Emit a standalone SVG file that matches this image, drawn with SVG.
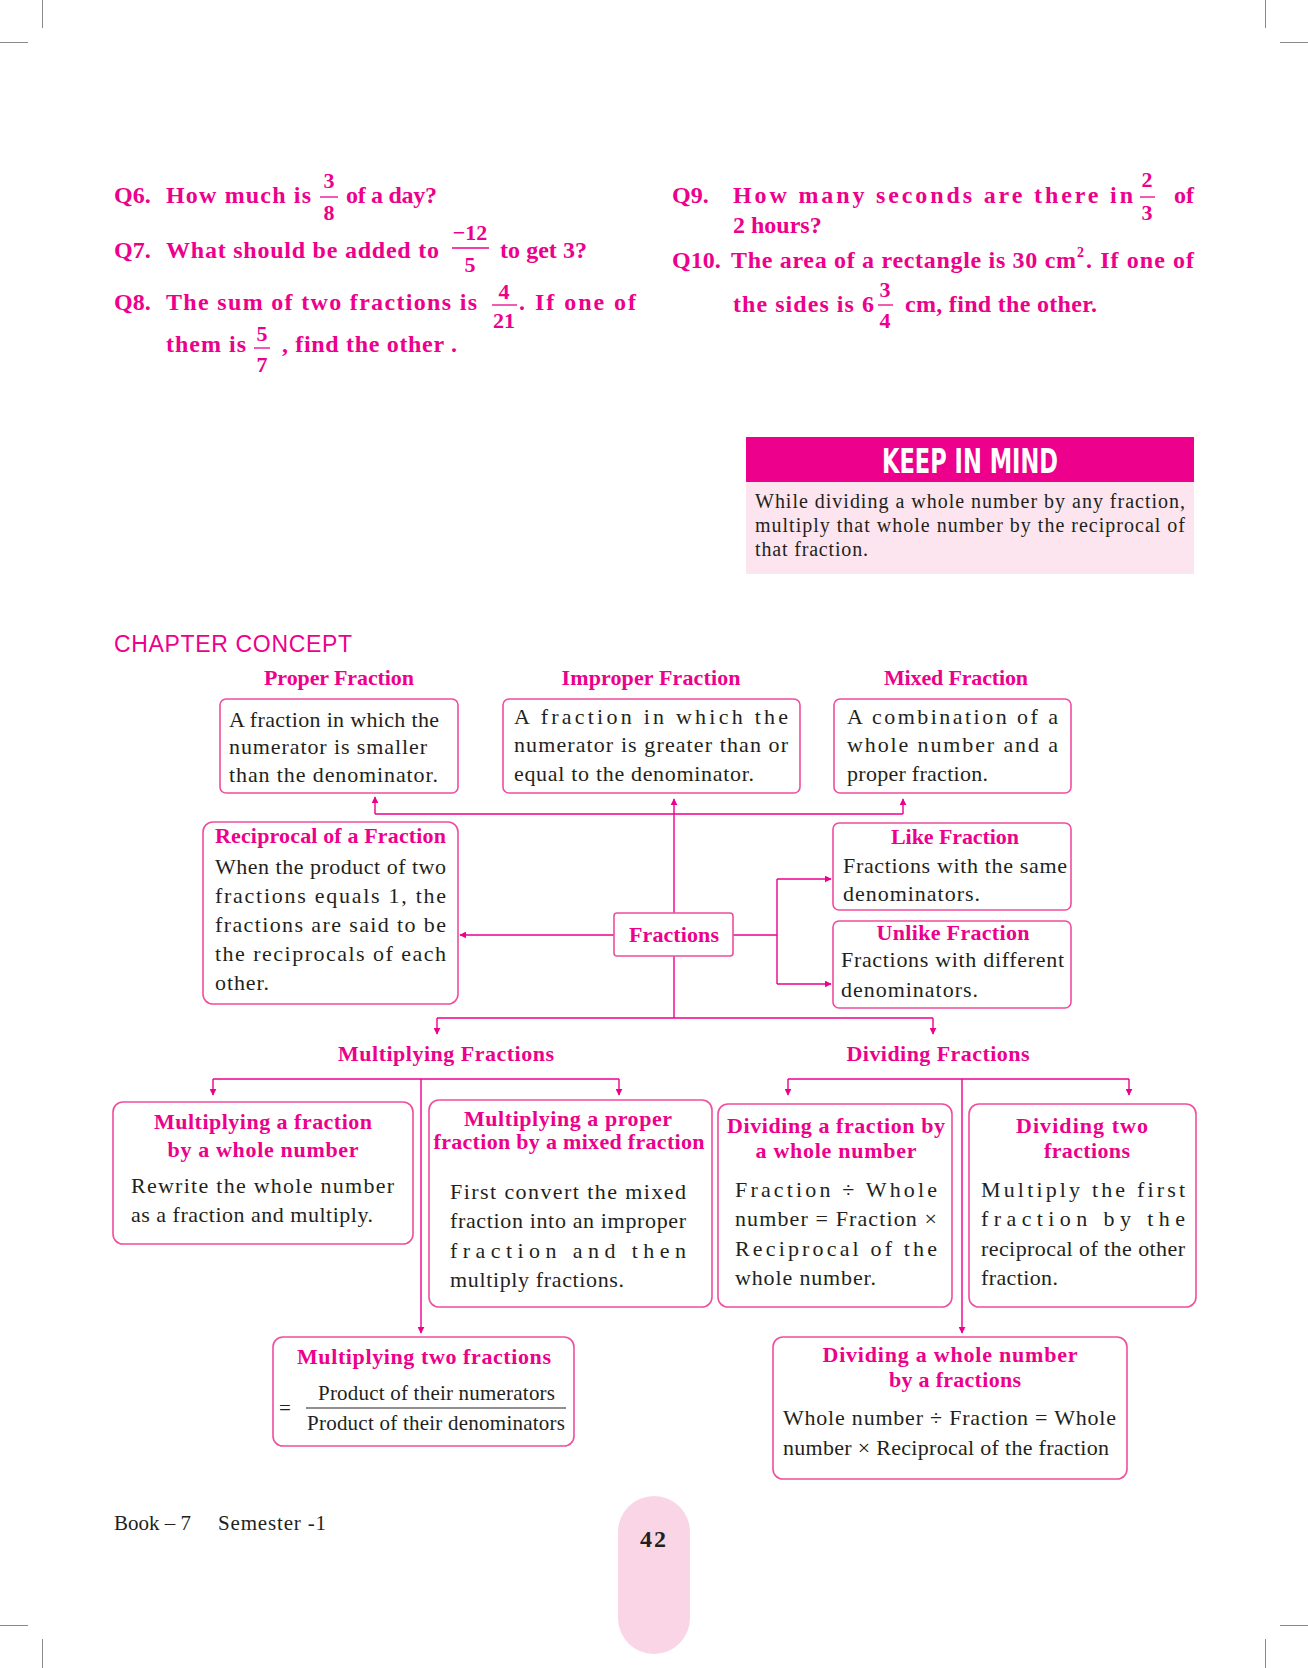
<svg xmlns="http://www.w3.org/2000/svg" width="1308" height="1668" viewBox="0 0 1308 1668">
<style>
.q{font-family:"Liberation Serif",serif;font-weight:bold;font-size:24px;fill:#EC008C}
.fr{font-family:"Liberation Serif",serif;font-weight:bold;font-size:22px;fill:#EC008C;text-anchor:middle}
.t{font-family:"Liberation Serif",serif;font-weight:bold;font-size:22px;fill:#EC008C;text-anchor:middle}
.b{font-family:"Liberation Serif",serif;font-size:22px;fill:#231F20}
.box{fill:none;stroke:#EF4E9E;stroke-width:1.6}
.ln{fill:none;stroke:#EC008C;stroke-width:1.4}
.crop{stroke:#8a8a8a;stroke-width:1}
</style>
<defs>
<marker id="ah" viewBox="0 0 10 10" refX="9" refY="5" markerWidth="7" markerHeight="7" markerUnits="userSpaceOnUse" orient="auto">
<path d="M0,0 L10,5 L0,10 z" fill="#EC008C"/>
</marker>
</defs>
<rect width="1308" height="1668" fill="#ffffff"/>
<g id="cropmarks">
<line class="crop" x1="42.5" y1="0" x2="42.5" y2="28"/>
<line class="crop" x1="0" y1="42.5" x2="28" y2="42.5"/>
<line class="crop" x1="1265.5" y1="0" x2="1265.5" y2="28"/>
<line class="crop" x1="1280" y1="42.5" x2="1308" y2="42.5"/>
<line class="crop" x1="0" y1="1625.5" x2="28" y2="1625.5"/>
<line class="crop" x1="42.5" y1="1639" x2="42.5" y2="1668"/>
<line class="crop" x1="1280" y1="1625.5" x2="1308" y2="1625.5"/>
<line class="crop" x1="1265.5" y1="1639" x2="1265.5" y2="1668"/>
</g>
<g id="questions">
<text class="q" x="114" y="203">Q6.</text>
<text class="q" x="166" y="203" textLength="145">How much is</text>
<text class="fr" x="329" y="188">3</text>
<line x1="320" y1="197" x2="338" y2="197" stroke="#EC008C" stroke-width="1.3"/>
<text class="fr" x="329" y="220">8</text>
<text class="q" x="346" y="203" textLength="91">of a day?</text>

<text class="q" x="114" y="258">Q7.</text>
<text class="q" x="166" y="258" textLength="273">What should be added to</text>
<text class="fr" x="470" y="240">−12</text>
<line x1="452" y1="248" x2="489" y2="248" stroke="#EC008C" stroke-width="1.3"/>
<text class="fr" x="470" y="272">5</text>
<text class="q" x="500" y="258" textLength="87">to get 3?</text>

<text class="q" x="114" y="310">Q8.</text>
<text class="q" x="166" y="310" textLength="311">The sum of two fractions is</text>
<text class="fr" x="504" y="299">4</text>
<line x1="492" y1="305" x2="517" y2="305" stroke="#EC008C" stroke-width="1.3"/>
<text class="fr" x="504" y="328">21</text>
<text class="q" x="519" y="310" textLength="117">. If one of</text>
<text class="q" x="166" y="352" textLength="80">them is</text>
<text class="fr" x="262" y="341">5</text>
<line x1="254" y1="348" x2="270" y2="348" stroke="#EC008C" stroke-width="1.3"/>
<text class="fr" x="262" y="372">7</text>
<text class="q" x="282" y="352" textLength="175">, find the other .</text>

<text class="q" x="672" y="203">Q9.</text>
<text class="q" x="733" y="203" textLength="400">How many seconds are there in</text>
<text class="fr" x="1147" y="187">2</text>
<line x1="1140" y1="197" x2="1155" y2="197" stroke="#EC008C" stroke-width="1.3"/>
<text class="fr" x="1147" y="220">3</text>
<text class="q" x="1194" y="203" style="text-anchor:end">of</text>
<text class="q" x="733" y="233">2 hours?</text>

<text class="q" x="672" y="268">Q10.</text>
<text class="q" x="731" y="268" textLength="345">The area of a rectangle is 30 cm</text>
<text class="q" x="1077" y="257" style="font-size:14px">2</text>
<text class="q" x="1086" y="268" textLength="108">. If one of</text>
<text class="q" x="733" y="312" textLength="141">the sides is 6</text>
<text class="fr" x="885" y="297">3</text>
<line x1="878" y1="305" x2="893" y2="305" stroke="#EC008C" stroke-width="1.3"/>
<text class="fr" x="885" y="328">4</text>
<text class="q" x="905" y="312" textLength="192">cm, find the other.</text>
</g>
<g id="keep-in-mind">
<rect x="746" y="437" width="448" height="45" fill="#EC008C"/>
<rect x="746" y="482" width="448" height="92" fill="#FCE5EF"/>
<text x="882" y="473" textLength="176" lengthAdjust="spacingAndGlyphs" style="font-family:'Liberation Sans Narrow','DejaVu Sans Condensed','Liberation Sans',sans-serif;font-weight:bold;font-size:33px;fill:#ffffff">KEEP IN MIND</text>
<text class="b" x="755" y="508" textLength="430" style="font-size:20px">While dividing a whole number by any fraction,</text>
<text class="b" x="755" y="532" textLength="430" style="font-size:20px">multiply that whole number by the reciprocal of</text>
<text class="b" x="755" y="556" textLength="113" style="font-size:20px">that fraction.</text>
</g>
<text x="114" y="652" textLength="238" style="font-family:'Liberation Sans',sans-serif;font-size:23px;fill:#EC008C">CHAPTER CONCEPT</text>
<g id="connectors">
<path class="ln" d="M674,913 V799" marker-end="url(#ah)"/>
<path class="ln" d="M375,814 H903"/>
<path class="ln" d="M375,814 V797" marker-end="url(#ah)"/>
<path class="ln" d="M903,814 V799" marker-end="url(#ah)"/>
<path class="ln" d="M614,935 H460" marker-end="url(#ah)"/>
<path class="ln" d="M733,935 H777"/>
<path class="ln" d="M777,879 V984"/>
<path class="ln" d="M777,879 H831" marker-end="url(#ah)"/>
<path class="ln" d="M777,984 H831" marker-end="url(#ah)"/>
<path class="ln" d="M674,956 V1018"/>
<path class="ln" d="M437,1018 H933"/>
<path class="ln" d="M437,1018 V1034" marker-end="url(#ah)"/>
<path class="ln" d="M933,1018 V1034" marker-end="url(#ah)"/>
<path class="ln" d="M213,1079 H619"/>
<path class="ln" d="M213,1079 V1095" marker-end="url(#ah)"/>
<path class="ln" d="M619,1079 V1095" marker-end="url(#ah)"/>
<path class="ln" d="M421,1079 V1333" marker-end="url(#ah)"/>
<path class="ln" d="M788,1079 H1129"/>
<path class="ln" d="M788,1079 V1095" marker-end="url(#ah)"/>
<path class="ln" d="M1129,1079 V1095" marker-end="url(#ah)"/>
<path class="ln" d="M962,1079 V1333" marker-end="url(#ah)"/>
</g>
<g id="proper">
<text class="t" x="339" y="685" textLength="150">Proper Fraction</text>
<rect class="box" x="220" y="699" width="238" height="94" rx="6"/>
<text class="b" x="229" y="727" textLength="210">A fraction in which the</text>
<text class="b" x="229" y="754" textLength="198">numerator is  smaller</text>
<text class="b" x="229" y="782" textLength="209">than the denominator.</text>
</g>
<g id="improper">
<text class="t" x="651" y="685" textLength="179">Improper Fraction</text>
<rect class="box" x="503" y="699" width="297" height="94" rx="6"/>
<text class="b" x="514" y="724" textLength="274">A fraction in which the</text>
<text class="b" x="514" y="752" textLength="274">numerator is greater than or</text>
<text class="b" x="514" y="781" textLength="240">equal to the denominator.</text>
</g>
<g id="mixed">
<text class="t" x="956" y="685" textLength="144">Mixed Fraction</text>
<rect class="box" x="834" y="699" width="237" height="94" rx="6"/>
<text class="b" x="847" y="724" textLength="211">A combination of a</text>
<text class="b" x="847" y="752" textLength="211">whole number and a</text>
<text class="b" x="847" y="781" textLength="141">proper fraction.</text>
</g>
<g id="reciprocal">
<rect class="box" x="203" y="822" width="255" height="182" rx="10"/>
<text class="t" x="215" y="843" textLength="231" style="text-anchor:start">Reciprocal of a Fraction</text>
<text class="b" x="215" y="874" textLength="231">When the product of two</text>
<text class="b" x="215" y="903" textLength="231">fractions equals 1, the</text>
<text class="b" x="215" y="932" textLength="231">fractions are said to be</text>
<text class="b" x="215" y="961" textLength="231">the reciprocals of each</text>
<text class="b" x="215" y="990" textLength="54">other.</text>
</g>
<g id="fractions">
<rect class="box" x="614" y="913" width="119" height="43" rx="3"/>
<text class="t" x="674" y="942" textLength="90">Fractions</text>
</g>
<g id="like">
<rect class="box" x="833" y="823" width="238" height="87" rx="6"/>
<text class="t" x="955" y="844" textLength="128">Like Fraction</text>
<text class="b" x="843" y="873" textLength="224">Fractions with the same</text>
<text class="b" x="843" y="901" textLength="137">denominators.</text>
</g>
<g id="unlike">
<rect class="box" x="833" y="921" width="238" height="87" rx="6"/>
<text class="t" x="953" y="940" textLength="153">Unlike Fraction</text>
<text class="b" x="841" y="967" textLength="223">Fractions with different</text>
<text class="b" x="841" y="997" textLength="137">denominators.</text>
</g>
<g id="multiplying-fractions">
<text class="t" x="446" y="1061" textLength="216">Multiplying Fractions</text>
</g>
<g id="dividing-fractions">
<text class="t" x="938" y="1061" textLength="183">Dividing Fractions</text>
</g>
<g id="mult-whole">
<rect class="box" x="113" y="1102" width="300" height="142" rx="10"/>
<text class="t" x="263" y="1129" textLength="218">Multiplying a fraction</text>
<text class="t" x="263" y="1157" textLength="191">by a whole number</text>
<text class="b" x="131" y="1193" textLength="263">Rewrite the whole number</text>
<text class="b" x="131" y="1222" textLength="242">as a fraction and multiply.</text>
</g>
<g id="mult-mixed">
<rect class="box" x="429" y="1100" width="283" height="207" rx="10"/>
<text class="t" x="568" y="1126" textLength="208">Multiplying a proper</text>
<text class="t" x="569" y="1149" textLength="271">fraction by a mixed fraction</text>
<text class="b" x="450" y="1199" textLength="236">First convert the mixed</text>
<text class="b" x="450" y="1228" textLength="236">fraction into an improper</text>
<text class="b" x="450" y="1258" textLength="236">fraction and then</text>
<text class="b" x="450" y="1287" textLength="174">multiply fractions.</text>
</g>
<g id="div-whole">
<rect class="box" x="718" y="1104" width="234" height="203" rx="10"/>
<text class="t" x="836" y="1133" textLength="218">Dividing a fraction by</text>
<text class="t" x="836" y="1158" textLength="161">a whole number</text>
<text class="b" x="735" y="1197" textLength="202">Fraction ÷ Whole</text>
<text class="b" x="735" y="1226" textLength="202">number = Fraction ×</text>
<text class="b" x="735" y="1256" textLength="202">Reciprocal of the</text>
<text class="b" x="735" y="1285" textLength="141">whole number.</text>
</g>
<g id="div-two">
<rect class="box" x="969" y="1104" width="227" height="203" rx="10"/>
<text class="t" x="1082" y="1133" textLength="132">Dividing two</text>
<text class="t" x="1087" y="1158" textLength="86">fractions</text>
<text class="b" x="981" y="1197" textLength="204">Multiply the first</text>
<text class="b" x="981" y="1226" textLength="204">fraction by the</text>
<text class="b" x="981" y="1256" textLength="204">reciprocal of the other</text>
<text class="b" x="981" y="1285" textLength="77">fraction.</text>
</g>
<g id="mult-two">
<rect class="box" x="273" y="1337" width="301" height="109" rx="10"/>
<text class="t" x="424" y="1364" textLength="254">Multiplying two fractions</text>
<text class="b" x="279" y="1415" style="font-size:21px">=</text>
<text class="b" x="318" y="1400" textLength="237" style="font-size:21px">Product of their numerators</text>
<line x1="306" y1="1408" x2="566" y2="1408" stroke="#231F20" stroke-width="1.2"/>
<text class="b" x="307" y="1430" textLength="258" style="font-size:21px">Product of their denominators</text>
</g>
<g id="div-whole-by-fraction">
<rect class="box" x="773" y="1337" width="354" height="142" rx="10"/>
<text class="t" x="950" y="1362" textLength="255">Dividing a whole number</text>
<text class="t" x="955" y="1387" textLength="132">by a fractions</text>
<text class="b" x="783" y="1425" textLength="333">Whole number ÷ Fraction = Whole</text>
<text class="b" x="783" y="1455" textLength="326">number × Reciprocal of the fraction</text>
</g>
<g id="footer">
<text class="b" x="114" y="1530" style="font-size:21px">Book – 7</text>
<text class="b" x="218" y="1530" textLength="108" style="font-size:21px">Semester -1</text>
<rect x="618" y="1496" width="72" height="158" rx="36" fill="#F9D5E5"/>
<text x="654" y="1547" style="font-family:'Liberation Serif',serif;font-weight:bold;font-size:24px;fill:#231F20;text-anchor:middle;letter-spacing:2px">42</text>
</g>
</svg>
